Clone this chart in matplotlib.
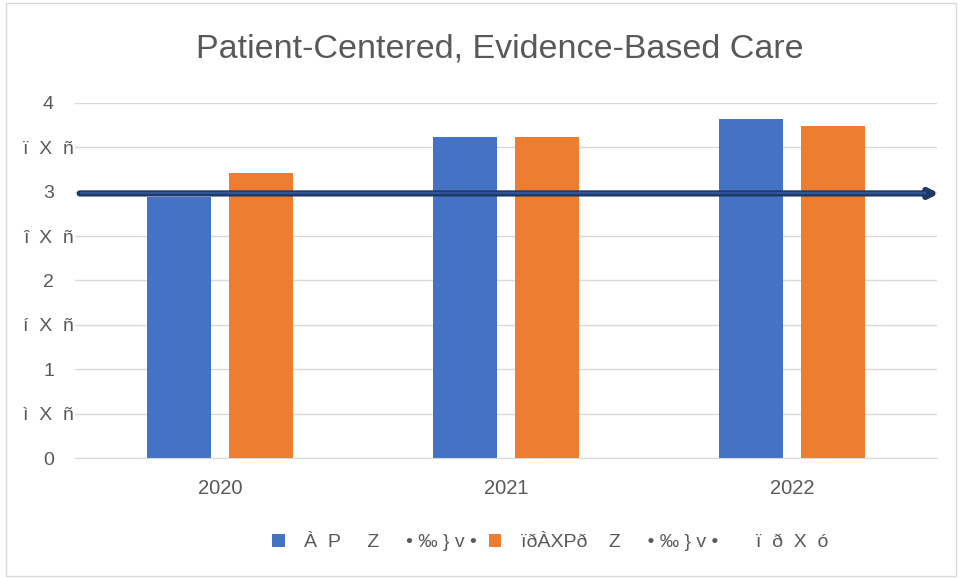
import numpy as np
import matplotlib
matplotlib.use("Agg")
import matplotlib.pyplot as plt
from matplotlib.patches import Rectangle

plt.rcParams['font.family'] = ['Liberation Sans', 'DejaVu Sans']

# data
years = ["2020", "2021", "2022"]
series1 = [2.94, 3.62, 3.82]
series2 = [3.21, 3.62, 3.74]
series_labels = ["À  P     Z     • ‰ } v •", "ïðÀXPð    Z     • ‰ } v •       ï  ð  X  ó"]
ytick_vals = [0, 0.5, 1, 1.5, 2, 2.5, 3, 3.5, 4]
ytick_labels = ["0", "ì  X  ñ", "1", "í  X  ñ", "2", "î  X  ñ", "3", "ï  X  ñ", "4"]
target = 2.98

blue = "#4472C4"
orange = "#ED7D31"
gray_txt = "#595959"

fig = plt.figure(figsize=(9.6, 5.78), dpi=100)
ax = fig.add_axes([0.078, 0.2076, 0.898, 0.6144])

x = np.arange(len(years))
w = 0.224
ax.bar(x - 0.143, series1, w, color=blue, label=series_labels[0], zorder=2)
ax.bar(x + 0.143, series2, w, color=orange, label=series_labels[1], zorder=2)

ax.set_xlim(-0.507, 2.507)
ax.set_ylim(0, 4)
ax.set_yticks(ytick_vals)
ax.set_yticklabels(ytick_labels, ha='center')
ax.set_xticks(x)
ax.set_xticklabels(years)
ax.grid(axis='y', color='#D9D9D9', linewidth=1, zorder=0)
for s in ['top', 'right', 'left']:
    ax.spines[s].set_visible(False)
ax.spines['bottom'].set_color('#D9D9D9')
ax.tick_params(axis='y', length=0, labelsize=14, colors=gray_txt, pad=19)
ax.tick_params(axis='x', length=0, labelsize=14.5, colors=gray_txt, pad=15)

# arrow line across the chart
ax.annotate("", xy=(2.515, target), xytext=(-0.49, target), xycoords='data',
            arrowprops=dict(arrowstyle='-|>,head_length=0.5,head_width=0.25',
                            color='#1F3864', lw=4.5, shrinkA=0, shrinkB=0),
            zorder=3, annotation_clip=False)
ax.plot([-0.49, 2.47], [target, target], color='#2F5597', lw=1.6, zorder=4,
        solid_capstyle='butt', clip_on=False)

fig.text(0.521, 0.915, "Patient-Centered, Evidence-Based Care", ha='center', va='center',
         fontsize=24.5, color=gray_txt)

leg = fig.legend(loc='center', bbox_to_anchor=(0.573, 0.064), ncol=2, frameon=False,
                 fontsize=14, handlelength=0.65, handleheight=0.65, columnspacing=0.6,
                 handletextpad=1.0)
for t in leg.get_texts():
    t.set_color(gray_txt)

fig.patches.append(Rectangle((0.006, 0.004), 0.99, 0.99, transform=fig.transFigure,
                             fill=False, edgecolor='#D9D9D9', lw=1))

fig.savefig("out.png", dpi=100)
